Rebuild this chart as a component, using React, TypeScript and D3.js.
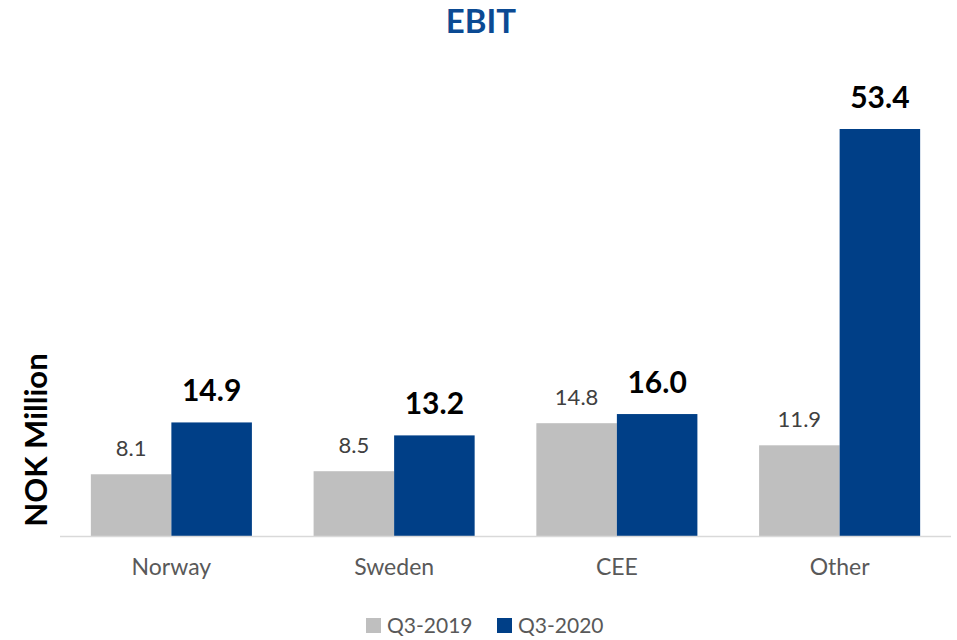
import React from "react";
import * as d3 from "d3";

const categories = ["Norway", "Sweden", "CEE", "Other"];
const seriesNames = ["Q3-2019", "Q3-2020"];
const q3_2019 = [8.1, 8.5, 14.8, 11.9];
const q3_2020 = [14.9, 13.2, 16.0, 53.4];
const colors = ["#BFBFBF", "#003F87"];

const W = 957;
const H = 640;
const FONT = "Lato, 'Open Sans', sans-serif";

export default function App() {
  const x0 = d3.scaleBand<string>().domain(categories).range([60, 951]).paddingInner(0.277).paddingOuter(0.1385);
  const x1 = d3.scaleBand<string>().domain(seriesNames).range([0, x0.bandwidth()]);
  const y = d3.scaleLinear().domain([0, 53.4]).range([536, 129]);
  const data = [q3_2019, q3_2020];
  const legendX = [366, 497];

  return (
    <svg width={W} height={H} style={{ position: "absolute", left: 0, top: 0 }} fontFamily={FONT}>
      <rect width={W} height={H} fill="#fff" />
      <text x={481} y={33} textAnchor="middle" fontSize={33} fontWeight="bold" fill="#0B4A93">EBIT</text>
      <text transform={`translate(47,440) rotate(-90)`} textAnchor="middle" fontSize={31} fontWeight="bold" fill="#000">NOK Million</text>
      {categories.map((c, i) => (
        <g key={c}>
          {seriesNames.map((s, j) => {
            const v = data[j][i];
            const bx = (x0(c) ?? 0) + (x1(s) ?? 0);
            const bw = x1.bandwidth();
            return (
              <g key={s}>
                <rect x={bx} y={y(v)} width={bw} height={y(0) - y(v)} fill={colors[j]} />
                <text
                  x={bx + bw / 2}
                  y={y(v) - (j === 0 ? 18 : 21)}
                  textAnchor="middle"
                  fontSize={j === 0 ? 22 : 30}
                  fontWeight={j === 0 ? "normal" : "bold"}
                  fill={j === 0 ? "#404040" : "#000"}
                >
                  {v.toFixed(1)}
                </text>
              </g>
            );
          })}
          <text x={(x0(c) ?? 0) + x0.bandwidth() / 2} y={575} textAnchor="middle" fontSize={23} fill="#595959">{c}</text>
        </g>
      ))}
      <line x1={60} x2={951} y1={536.5} y2={536.5} stroke="#D9D9D9" strokeWidth={1.5} />
      {seriesNames.map((s, j) => (
        <g key={s}>
          <rect x={legendX[j]} y={618} width={15} height={15} fill={colors[j]} />
          <text x={legendX[j] + 21} y={633} fontSize={21} fill="#595959">{s}</text>
        </g>
      ))}
    </svg>
  );
}
